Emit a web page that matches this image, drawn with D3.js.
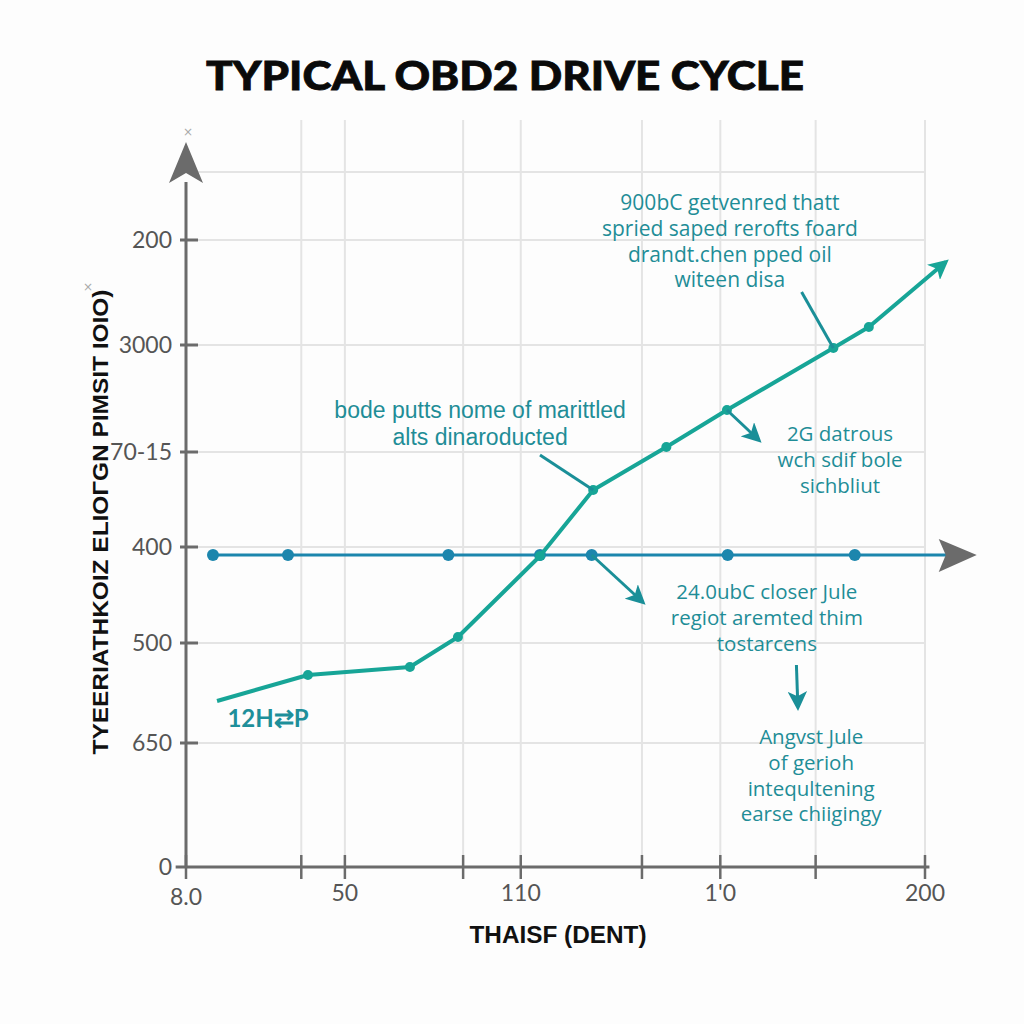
<!DOCTYPE html>
<html><head><meta charset="utf-8">
<script src="https://cdn.jsdelivr.net/npm/d3@7"></script>
<style>html,body{margin:0;padding:0;background:#fff;}svg{display:block;}</style>
</head><body>
<script>
// ---- data ----
const titleText = "TYPICAL OBD2 DRIVE CYCLE";
const xAxisTitle = "THAISF (DENT)";
const yAxisTitle = "TYEERIATHKOIZ ELIOΓGN PIMSIT IOIO)";
const xMajorTicks = [0, 21.5, 45.3, 72.3, 100];
const xMajorLabels = ["8.0", "50", "110", "1'0", "200"];
const xMinorTicks = [15.6, 37.5, 61.7, 85.2];
const xGrid = [15.6, 21.5, 37.5, 45.3, 61.7, 72.3, 85.2, 100];
const yTicks = [0, 1.24, 2.24, 3.2, 4.15, 5.22, 6.27];
const yLabels = ["0", "650", "500", "400", "70-15", "3000", "200"];
const yGrid = [1.24, 2.24, 3.2, 4.15, 5.22, 6.27, 6.95];
const blueX = [3.65, 13.8, 35.5, 47.9, 54.9, 73.3, 90.5];
const blueY = [3.12, 3.12, 3.12, 3.12, 3.12, 3.12, 3.12];
const blueEndX = 107;
const tealX = [4.2, 16.5, 30.3, 36.8, 47.9, 55.1, 65.0, 73.2, 87.6, 92.4];
const tealY = [1.66, 1.92, 2.0, 2.3, 3.11, 3.77, 4.2, 4.57, 5.19, 5.4];
const tealEnd = [102.8, 6.05];
const notes = [
  {lines:["900bC getvenred thatt","spried saped rerofts foard","drandt.chen pped oil","witeen disa"], x:73.6, y:6.57, size:21, gap:25.8, font:"'Open Sans', sans-serif"},
  {lines:["bode putts nome of marittled","alts dinaroducted"], x:39.8, y:4.49, size:23, gap:27.2, font:"'Liberation Sans', Arial, sans-serif"},
  {lines:["2G datrous","wch sdif bole","sichbliut"], x:88.5, y:4.26, size:20.5, gap:25.8, font:"'Open Sans', sans-serif"},
  {lines:["24.0ubC closer Jule","regiot aremted thim","tostarcens"], x:78.6, y:2.68, size:20.5, gap:25.8, font:"'Open Sans', sans-serif"},
  {lines:["Angvst Jule","of gerioh","intequltening","earse chiigingy"], x:84.6, y:1.23, size:20.5, gap:25.8, font:"'Open Sans', sans-serif"}
];
const leaders = [
  {x1:83.3, y1:5.75, x2:87.6, y2:5.19, arrow:false},
  {x1:47.9, y1:4.12, x2:55.1, y2:3.77, arrow:false},
  {x1:73.2, y1:4.57, x2:77.5, y2:4.27, arrow:true},
  {x1:54.9, y1:3.12, x2:61.8, y2:2.65, arrow:true},
  {x1:82.6, y1:2.02, x2:82.8, y2:1.6, arrow:true}
];
const tagText = "12H⇄P";

// ---- drawing ----
const W = 1024, H = 1024;
const svg = d3.select("body").append("svg").attr("width", W).attr("height", H);
svg.append("rect").attr("width", W).attr("height", H).attr("fill", "#fdfdfd");

const x = d3.scaleLinear().domain([0, 100]).range([186, 925]);
const y = d3.scaleLinear().domain([0, 7]).range([867, 167]);

const gridC = "#e4e4e4", axisC = "#6b6b6b", teal = "#17a597", blue = "#1c86ad", noteC = "#1f8d97";

// grid
svg.append("g").selectAll("line").data(xGrid).join("line")
  .attr("x1", d => x(d)).attr("x2", d => x(d)).attr("y1", 120).attr("y2", y(0))
  .attr("stroke", gridC).attr("stroke-width", 2);
svg.append("g").selectAll("line").data(yGrid).join("line")
  .attr("x1", x(0)).attr("x2", x(100)).attr("y1", d => y(d)).attr("y2", d => y(d))
  .attr("stroke", gridC).attr("stroke-width", 2);

// title
svg.append("text").attr("x", 505).attr("y", 90).attr("text-anchor", "middle")
  .attr("font-family", "Lato, 'DejaVu Sans', sans-serif").attr("font-weight", 900)
  .attr("font-size", 40).attr("fill", "#0a0a0a").attr("stroke", "#0a0a0a").attr("stroke-width", 0.8)
  .attr("textLength", 598).attr("lengthAdjust", "spacingAndGlyphs")
  .text(titleText);

// defs for arrowheads
const defs = svg.append("defs");
defs.append("marker").attr("id", "tealArrow").attr("viewBox", "0 0 10 10").attr("refX", 8).attr("refY", 5)
  .attr("markerWidth", 5).attr("markerHeight", 5).attr("markerUnits", "strokeWidth").attr("orient", "auto")
  .append("path").attr("d", "M0,0 L10,5 L0,10 L2.5,5 Z").attr("fill", teal);
defs.append("marker").attr("id", "noteArrow").attr("viewBox", "0 0 10 10").attr("refX", 8).attr("refY", 5)
  .attr("markerWidth", 6.5).attr("markerHeight", 6.5).attr("markerUnits", "strokeWidth").attr("orient", "auto")
  .append("path").attr("d", "M0,0 L10,5 L0,10 L2.5,5 Z").attr("fill", "#1a8f98");

// axes
const yAxis = d3.axisLeft(y).tickValues(yTicks).tickFormat((d, i) => yLabels[i]).tickSize(0).tickPadding(14);
const gy = svg.append("g").attr("transform", `translate(${x(0)},0)`).call(yAxis);
gy.select(".domain").remove();
gy.selectAll("text").attr("font-family", "Lato, sans-serif").attr("font-size", 23).attr("fill", "#555");
svg.append("g").selectAll("line").data(yTicks.slice(1)).join("line")
  .attr("x1", x(0) - 6).attr("x2", x(0) + 12).attr("y1", d => y(d)).attr("y2", d => y(d))
  .attr("stroke", axisC).attr("stroke-width", 3);
svg.append("line").attr("x1", x(0)).attr("x2", x(0)).attr("y1", y(0)).attr("y2", y(6.85))
  .attr("stroke", axisC).attr("stroke-width", 3);
// y arrowhead
{
  const tx = x(0), ty = y(7.25);
  svg.append("path").attr("d", `M${tx},${ty} L${tx + 17},${ty + 41} L${tx},${ty + 31} L${tx - 17},${ty + 41} Z`).attr("fill", axisC);
}

// x axis
svg.append("line").attr("x1", x(-1.4)).attr("x2", x(100.6)).attr("y1", y(0)).attr("y2", y(0))
  .attr("stroke", axisC).attr("stroke-width", 3);
svg.append("g").selectAll("line").data(xMajorTicks.concat(xMinorTicks)).join("line")
  .attr("x1", d => x(d)).attr("x2", d => x(d)).attr("y1", y(0) - 12).attr("y2", y(0) + 12)
  .attr("stroke", axisC).attr("stroke-width", 2.5);
svg.append("g").selectAll("text").data(xMajorTicks).join("text")
  .attr("x", d => x(d)).attr("y", (d, i) => i === 0 ? 905 : 901).attr("text-anchor", "middle")
  .attr("font-family", "Lato, sans-serif").attr("font-size", 23).attr("fill", "#555")
  .text((d, i) => xMajorLabels[i]);

// axis titles
svg.append("text").attr("x", 558).attr("y", 943).attr("text-anchor", "middle")
  .attr("font-family", "'Liberation Sans', Arial, sans-serif").attr("font-weight", 700).attr("font-size", 23)
  .attr("fill", "#111").attr("textLength", 177).attr("lengthAdjust", "spacingAndGlyphs").text(xAxisTitle);
svg.append("text").attr("transform", "translate(108,522) rotate(-90)").attr("text-anchor", "middle")
  .attr("font-family", "'Liberation Sans', Arial, sans-serif").attr("font-weight", 700).attr("font-size", 22)
  .attr("fill", "#111").attr("textLength", 465).attr("lengthAdjust", "spacingAndGlyphs").text(yAxisTitle);

// small marks
svg.append("text").attr("x", 188).attr("y", 136).attr("text-anchor", "middle").attr("font-size", 12)
  .attr("fill", "#aaa").attr("font-family", "DejaVu Sans").text("×");
svg.append("text").attr("x", 88).attr("y", 291).attr("text-anchor", "middle").attr("font-size", 12)
  .attr("fill", "#aaa").attr("font-family", "DejaVu Sans").text("×");

// blue series
const bluePts = blueX.map((d, i) => [d, blueY[i]]);
svg.append("line").attr("x1", x(blueX[0])).attr("x2", x(blueEndX - 4)).attr("y1", y(blueY[0])).attr("y2", y(blueY[0]))
  .attr("stroke", blue).attr("stroke-width", 3);
{
  const tx = x(blueEndX), ty = y(blueY[0]);
  svg.append("path").attr("d", `M${tx},${ty} L${tx - 38},${ty - 16} L${tx - 31},${ty} L${tx - 38},${ty + 17} Z`).attr("fill", axisC);
}
svg.append("g").selectAll("circle").data(bluePts).join("circle")
  .attr("cx", d => x(d[0])).attr("cy", d => y(d[1])).attr("r", 6).attr("fill", blue);

// teal series
const tealPts = tealX.map((d, i) => [d, tealY[i]]);
const line = d3.line().x(d => x(d[0])).y(d => y(d[1]));
svg.append("path").attr("d", line(tealPts.concat([tealEnd]))).attr("fill", "none")
  .attr("stroke", teal).attr("stroke-width", 4).attr("stroke-linejoin", "round").attr("marker-end", "url(#tealArrow)");
svg.append("g").selectAll("circle").data(tealPts.slice(1)).join("circle")
  .attr("cx", d => x(d[0])).attr("cy", d => y(d[1])).attr("r", 5).attr("fill", teal);

// leaders
svg.append("g").selectAll("line").data(leaders).join("line")
  .attr("x1", d => x(d.x1)).attr("y1", d => y(d.y1)).attr("x2", d => x(d.x2)).attr("y2", d => y(d.y2))
  .attr("stroke", "#1a8f98").attr("stroke-width", 3)
  .attr("marker-end", d => d.arrow ? "url(#noteArrow)" : null);

// notes
notes.forEach(n => {
  const t = svg.append("text").attr("text-anchor", "middle")
    .attr("font-family", n.font).attr("font-size", n.size).attr("fill", noteC);
  n.lines.forEach((l, i) => {
    t.append("tspan").attr("x", x(n.x)).attr("y", y(n.y) + i * n.gap).text(l);
  });
});

svg.append("text").attr("x", x(5.6)).attr("y", 727)
  .attr("font-family", "Lato, sans-serif").attr("font-weight", 700).attr("font-size", 24).attr("fill", "#1e8f9a")
  .text(tagText);
</script>
</body></html>
